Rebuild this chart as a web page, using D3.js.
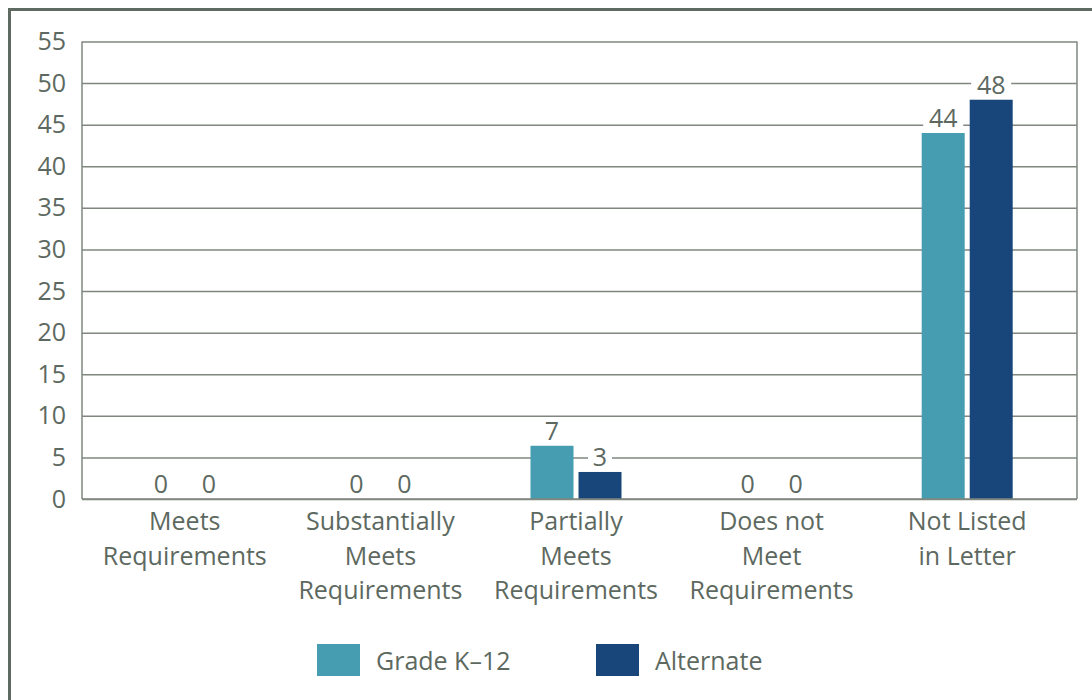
<!DOCTYPE html>
<meta charset="utf-8">
<script src="https://d3js.org/d3.v7.min.js"></script>
<style>
  body { margin: 0; background: #fff; }
  text { font-family: "Open Sans", sans-serif; fill: #5d6960; }
</style>
<body>
<div id="my_dataviz"></div>
<script>
    // data
    var categories = [
        ["Meets", "Requirements"],
        ["Substantially", "Meets", "Requirements"],
        ["Partially", "Meets", "Requirements"],
        ["Does not", "Meet", "Requirements"],
        ["Not Listed", "in Letter"]
    ];
    var seriesNames = ["Grade K\u201312", "Alternate"];
    var gradeValues = [0, 0, 6.4, 0, 44];
    var alternateValues = [0, 0, 3.25, 0, 48];
    var gradeLabels = ["0", "0", "7", "0", "44"];
    var alternateLabels = ["0", "0", "3", "0", "48"];
    var yTicks = [0, 5, 10, 15, 20, 25, 30, 35, 40, 45, 50, 55];
    var colors = ["#469db1", "#18457a"];

    var W = 1092, H = 700;
    var plot = { left: 82, right: 1077, top: 41.5, bottom: 499 };
    var textColor = "#5d6960", gridColor = "#7f877f";

    var svg = d3.select("#my_dataviz")
        .append("svg")
        .attr("width", W)
        .attr("height", H);

    // outer frame (runs off the right and bottom edges)
    svg.append("rect")
        .attr("x", 9.5).attr("y", 9.5)
        .attr("width", 1200).attr("height", 800)
        .attr("fill", "none")
        .attr("stroke", "#5f6a62")
        .attr("stroke-width", 3);

    var y = d3.scaleLinear().domain([0, 55]).range([plot.bottom, plot.top]);
    var x = d3.scaleBand().domain(d3.range(categories.length)).range([87, 1065]);

    // Y axis with gridlines
    var yAxis = svg.append("g")
        .attr("transform", "translate(" + plot.left + ",0)")
        .call(d3.axisLeft(y).tickValues(yTicks).tickSize(-(plot.right - plot.left)).tickPadding(16));
    yAxis.select(".domain").remove();
    yAxis.selectAll(".tick line")
        .attr("stroke", gridColor)
        .attr("stroke-width", 1.5);
    yAxis.selectAll(".tick text")
        .attr("font-size", 25)
        .attr("fill", textColor)
        .style("font-family", "'Open Sans', sans-serif");

    // plot frame sides
    svg.append("line")
        .attr("x1", plot.left).attr("x2", plot.left)
        .attr("y1", plot.top).attr("y2", plot.bottom)
        .attr("stroke", gridColor).attr("stroke-width", 1.5);
    svg.append("line")
        .attr("x1", plot.right).attr("x2", plot.right)
        .attr("y1", plot.top).attr("y2", plot.bottom)
        .attr("stroke", gridColor).attr("stroke-width", 1.5);

    // bars
    var barW = 43, gap = 5;
    var series = [
        { values: gradeValues, labels: gradeLabels, color: colors[0], off: -(barW + gap / 2) },
        { values: alternateValues, labels: alternateLabels, color: colors[1], off: gap / 2 }
    ];

    series.forEach(function(s) {
        var g = svg.append("g");
        g.selectAll("rect")
            .data(s.values)
            .enter().append("rect")
            .attr("x", function(d, i) { return x(i) + x.bandwidth() / 2 + s.off; })
            .attr("y", function(d) { return y(d); })
            .attr("width", barW)
            .attr("height", function(d) { return y(0) - y(d); })
            .attr("fill", s.color);

        // value labels with white backing so gridlines break
        var lab = g.selectAll(".lab")
            .data(s.values)
            .enter().append("g")
            .attr("transform", function(d, i) {
                return "translate(" + (x(i) + x.bandwidth() / 2 + s.off + barW / 2) + "," + (y(d) - 15) + ")";
            });
        lab.append("rect")
            .attr("x", function(d, i) { return -s.labels[i].length * 8 - 4; })
            .attr("y", -12)
            .attr("width", function(d, i) { return s.labels[i].length * 16 + 8; })
            .attr("height", 24)
            .attr("fill", "#fff");
        lab.append("text")
            .attr("text-anchor", "middle")
            .attr("dy", "0.36em")
            .attr("font-size", 25)
            .text(function(d, i) { return s.labels[i]; });
    });

    // x axis baseline
    svg.append("line")
        .attr("x1", plot.left).attr("x2", plot.right)
        .attr("y1", plot.bottom).attr("y2", plot.bottom)
        .attr("stroke", gridColor).attr("stroke-width", 1.5);

    // category labels
    svg.append("g").selectAll("text")
        .data(categories)
        .enter().append("text")
        .attr("text-anchor", "middle")
        .attr("font-size", 25)
        .attr("x", function(d, i) { return x(i) + x.bandwidth() / 2; })
        .attr("y", 521)
        .each(function(lines) {
            var t = d3.select(this);
            lines.forEach(function(l, k) {
                t.append("tspan")
                    .attr("x", t.attr("x"))
                    .attr("dy", k === 0 ? "0.36em" : 34.5)
                    .text(l);
            });
        });

    // legend
    var legendX = [317, 596];
    var legend = svg.append("g").selectAll("g")
        .data(seriesNames)
        .enter().append("g")
        .attr("transform", function(d, i) { return "translate(" + legendX[i] + ",644)"; });
    legend.append("rect")
        .attr("width", 43).attr("height", 32)
        .attr("fill", function(d, i) { return colors[i]; });
    legend.append("text")
        .attr("x", 59).attr("y", 17)
        .attr("dy", "0.36em")
        .attr("font-size", 25)
        .text(function(d) { return d; });
</script>
</body>
